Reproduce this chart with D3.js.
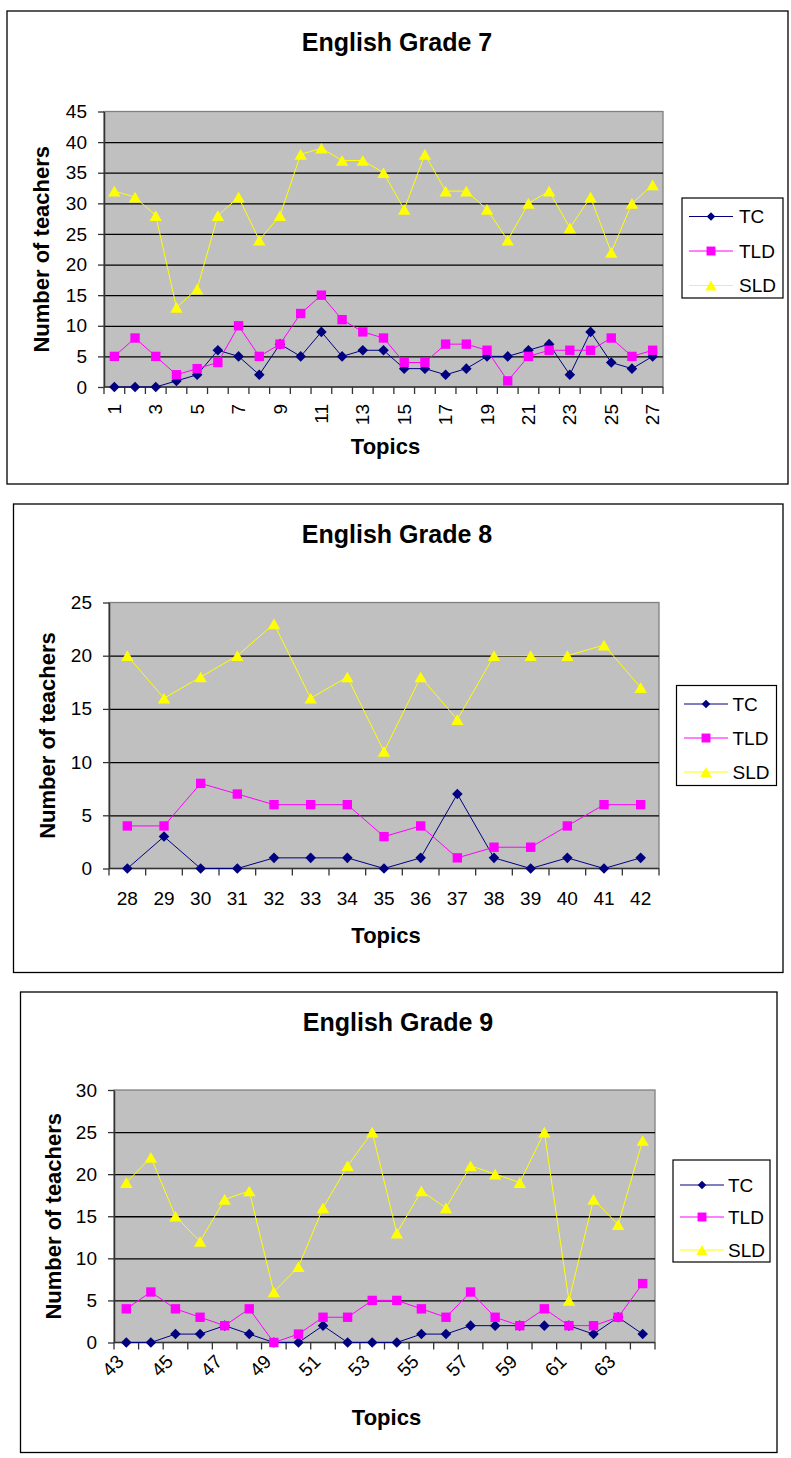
<!DOCTYPE html>
<html>
<head>
<meta charset="utf-8">
<script src="https://cdn.jsdelivr.net/npm/d3@7"></script>
<style>
  body { margin: 0; background: #fff; }
  svg { display: block; }
  text { font-family: "Liberation Sans", Arial, sans-serif; fill: #000; }
</style>
</head>
<body>
<svg id="chart" width="791" height="1458"></svg>
<script>
// ---- Grade 7 ----
const grade7Topics = [1,2,3,4,5,6,7,8,9,10,11,12,13,14,15,16,17,18,19,20,21,22,23,24,25,26,27];
const grade7TC  = [0,0,0,1,2,6,5,2,7,5,9,5,6,6,3,3,2,3,5,5,6,7,2,9,4,3,5];
const grade7TLD = [5,8,5,2,3,4,10,5,7,12,15,11,9,8,4,4,7,7,6,1,5,6,6,6,8,5,6];
const grade7SLD = [32,31,28,13,16,28,31,24,28,38,39,37,37,35,29,38,32,32,29,24,30,32,26,31,22,30,33];
const grade7YTicks = [0,5,10,15,20,25,30,35,40,45];
const grade7XLabels = ["1","3","5","7","9","11","13","15","17","19","21","23","25","27"];

// ---- Grade 8 ----
const grade8Topics = [28,29,30,31,32,33,34,35,36,37,38,39,40,41,42];
const grade8TC  = [0,3,0,0,1,1,1,0,1,7,1,0,1,0,1];
const grade8TLD = [4,4,8,7,6,6,6,3,4,1,2,2,4,6,6];
const grade8SLD = [20,16,18,20,23,16,18,11,18,14,20,20,20,21,17];
const grade8YTicks = [0,5,10,15,20,25];
const grade8XLabels = ["28","29","30","31","32","33","34","35","36","37","38","39","40","41","42"];

// ---- Grade 9 ----
const grade9Topics = [43,44,45,46,47,48,49,50,51,52,53,54,55,56,57,58,59,60,61,62,63,64];
const grade9TC  = [0,0,1,1,2,1,0,0,2,0,0,0,1,1,2,2,2,2,2,1,3,1];
const grade9TLD = [4,6,4,3,2,4,0,1,3,3,5,5,4,3,6,3,2,4,2,2,3,7];
const grade9SLD = [19,22,15,12,17,18,6,9,16,21,25,13,18,16,21,20,19,25,5,17,14,24];
const grade9YTicks = [0,5,10,15,20,25,30];
const grade9XLabels = ["43","45","47","49","51","53","55","57","59","61","63"];

const seriesNames = ["TC", "TLD", "SLD"];
const seriesColors = ["#000080", "#FF00FF", "#FFFF00"];
const seriesMarkers = ["diamond", "square", "triangle"];

const yAxisTitle = "Number of teachers";
const xAxisTitle = "Topics";

const charts = [
  { title: "English Grade 7", topics: grade7Topics, values: [grade7TC, grade7TLD, grade7SLD],
    yTicks: grade7YTicks, xLabels: grade7XLabels, labelAngle: -90,
    frame: [7, 11, 788, 484], plot: [104, 111.5, 663, 387],
    titleX: 397, titleY: 51, topicsY: 454, yTitleX: 49,
    legend: { x: 682, y: 198, w: 101, h: 100, rows: [216.5, 251, 285.5], lx0: 689, lx1: 733, tx: 739 },
    xLabelY: 404 },
  { title: "English Grade 8", topics: grade8Topics, values: [grade8TC, grade8TLD, grade8SLD],
    yTicks: grade8YTicks, xLabels: grade8XLabels, labelAngle: 0,
    frame: [13.5, 504, 783, 972.5], plot: [109, 602.5, 659, 868.5],
    titleX: 397, titleY: 543, topicsY: 943, yTitleX: 55,
    legend: { x: 676.5, y: 685.5, w: 100, h: 100, rows: [704, 738, 772], lx0: 684, lx1: 728, tx: 732.5 },
    xLabelY: 905 },
  { title: "English Grade 9", topics: grade9Topics, values: [grade9TC, grade9TLD, grade9SLD],
    yTicks: grade9YTicks, xLabels: grade9XLabels, labelAngle: -45,
    frame: [20.5, 992, 777, 1452.5], plot: [114, 1090, 655, 1342.5],
    titleX: 398, titleY: 1031, topicsY: 1425, yTitleX: 61,
    legend: { x: 673, y: 1160, w: 97, h: 102, rows: [1185, 1217, 1250], lx0: 680, lx1: 724, tx: 728 },
    xLabelY: 1358 }
];

const svg = d3.select("#chart");

const markerSize = { diamond: [56, 36], square: [88, 80], triangle: [66, 56] };

function markerPath(kind, big) {
  const s = markerSize[kind][big ? 0 : 1];
  if (kind === "triangle") return d3.symbol(d3.symbolTriangle, s)();
  return d3.symbol(d3.symbolSquare, s)();
}
function markerTransform(kind, x, y, big) {
  if (kind === "diamond") return `translate(${x},${y}) rotate(45)`;
  if (kind === "triangle") {
    const r = Math.sqrt(markerSize[kind][big ? 0 : 1] / (Math.sqrt(3) * 3));
    return `translate(${x},${y + r / 2})`;
  }
  return `translate(${x},${y})`;
}

charts.forEach(c => {
  const g = svg.append("g");
  const [fx0, fy0, fx1, fy1] = c.frame;
  const [px0, py0, px1, py1] = c.plot;

  // chart frame
  g.append("rect").attr("x", fx0).attr("y", fy0)
    .attr("width", fx1 - fx0).attr("height", fy1 - fy0)
    .attr("fill", "#fff").attr("stroke", "#000").attr("stroke-width", 1.3);

  const x = d3.scaleBand().domain(c.topics).range([px0, px1]).padding(0);
  const y = d3.scaleLinear().domain([0, d3.max(c.yTicks)]).range([py1, py0]);

  // plot background
  g.append("rect").attr("x", px0).attr("y", py0)
    .attr("width", px1 - px0).attr("height", py1 - py0)
    .attr("fill", "#C0C0C0").attr("stroke", "#808080").attr("stroke-width", 1.3);

  // horizontal gridlines
  g.append("g").attr("transform", `translate(${px0},0)`)
    .call(d3.axisLeft(y).tickValues(c.yTicks.filter(v => v > 0 && v < d3.max(c.yTicks)))
      .tickSize(-(px1 - px0)).tickFormat(""))
    .call(a => a.select(".domain").remove())
    .call(a => a.selectAll("line").attr("stroke", "#000").attr("stroke-width", 1.3));

  // y axis with tick labels
  g.append("g").attr("transform", `translate(${px0},0)`)
    .call(d3.axisLeft(y).tickValues(c.yTicks).tickSize(6).tickSizeOuter(0).tickPadding(11))
    .call(a => a.select(".domain").attr("stroke", "#333").attr("stroke-width", 1.5))
    .call(a => a.selectAll("line").attr("stroke", "#333").attr("stroke-width", 1.3))
    .call(a => a.selectAll("text").attr("font-size", 19)
      .attr("font-family", '"Liberation Sans", Arial, sans-serif').attr("fill", "#000"));

  // x axis line and category boundary ticks
  g.append("line").attr("x1", px0).attr("x2", px1).attr("y1", py1).attr("y2", py1)
    .attr("stroke", "#333").attr("stroke-width", 1.5);
  const bounds = c.topics.map(t => x(t)).concat([x(c.topics[c.topics.length - 1]) + x.bandwidth()]);
  g.selectAll(".xtick").data(bounds).join("line")
    .attr("x1", d => d).attr("x2", d => d).attr("y1", py1).attr("y2", py1 + 7)
    .attr("stroke", "#333").attr("stroke-width", 1.3);

  // x tick labels
  const cx = t => x(+t) + x.bandwidth() / 2;
  const xl = g.selectAll(".xlab").data(c.xLabels).join("text").attr("font-size", 19);
  if (c.labelAngle === 0) {
    xl.attr("x", d => cx(d)).attr("y", c.xLabelY).attr("text-anchor", "middle").text(d => d);
  } else if (c.labelAngle === -90) {
    xl.attr("transform", d => `translate(${cx(d)},${c.xLabelY}) rotate(-90)`)
      .attr("text-anchor", "end").attr("dy", "0.35em").text(d => d);
  } else {
    xl.attr("transform", d => `translate(${cx(d) - 6},${c.xLabelY}) rotate(${c.labelAngle})`)
      .attr("text-anchor", "end").attr("dy", "0.35em").text(d => d);
  }

  // series lines and markers
  seriesNames.forEach((name, si) => {
    const vals = c.values[si];
    const pts = c.topics.map((t, i) => [cx(t), y(vals[i])]);
    g.append("path").attr("d", d3.line()(pts))
      .attr("fill", "none").attr("stroke", seriesColors[si]).attr("stroke-width", 1);
    g.selectAll(null).data(pts).join("path")
      .attr("d", markerPath(seriesMarkers[si], true))
      .attr("transform", d => markerTransform(seriesMarkers[si], d[0], d[1], true))
      .attr("fill", seriesColors[si]);
  });

  // titles
  g.append("text").attr("x", c.titleX).attr("y", c.titleY).attr("text-anchor", "middle")
    .attr("font-size", 25).attr("font-weight", "bold").text(c.title);
  g.append("text").attr("x", (px0 + px1) / 2 + 2).attr("y", c.topicsY).attr("text-anchor", "middle")
    .attr("font-size", 22).attr("font-weight", "bold").text(xAxisTitle);
  g.append("text").attr("transform", `translate(${c.yTitleX},${(py0 + py1) / 2}) rotate(-90)`)
    .attr("text-anchor", "middle").attr("font-size", 22).attr("font-weight", "bold").text(yAxisTitle);

  // legend
  const L = c.legend;
  g.append("rect").attr("x", L.x).attr("y", L.y).attr("width", L.w).attr("height", L.h)
    .attr("fill", "#fff").attr("stroke", "#000").attr("stroke-width", 1.2);
  seriesNames.forEach((name, si) => {
    const ry = L.rows[si];
    g.append("line").attr("x1", L.lx0).attr("x2", L.lx1).attr("y1", ry).attr("y2", ry)
      .attr("stroke", seriesColors[si]).attr("stroke-width", 1);
    g.append("path").attr("d", markerPath(seriesMarkers[si], false))
      .attr("transform", markerTransform(seriesMarkers[si], (L.lx0 + L.lx1) / 2, ry, false))
      .attr("fill", seriesColors[si]);
    g.append("text").attr("x", L.tx).attr("y", ry).attr("dy", "0.35em")
      .attr("font-size", 19).text(name);
  });
});
</script>
</body>
</html>
